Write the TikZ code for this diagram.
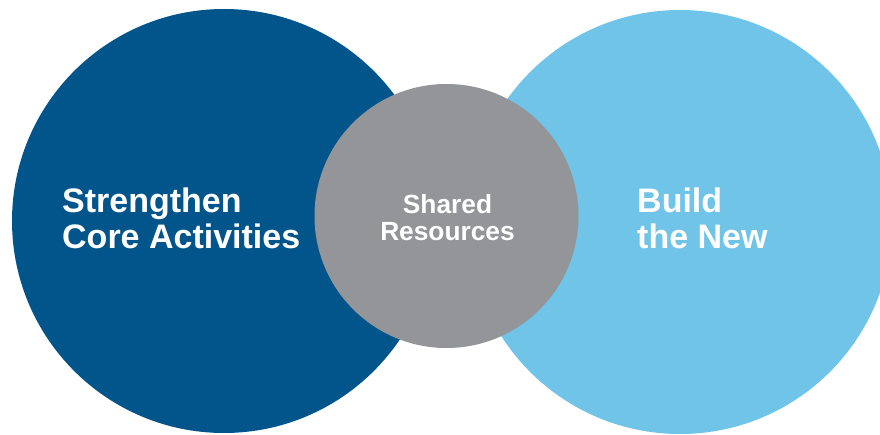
\documentclass[tikz,border=0pt]{standalone}
\usepackage{fontspec}
\setmainfont{Liberation Sans}
\definecolor{darkblue}{HTML}{02558B}
\definecolor{lightblue}{HTML}{70C4E8}
\definecolor{midgray}{HTML}{939598}
\begin{document}
\begin{tikzpicture}[x=1pt,y=1pt,
  bigcircle/.style={circle,minimum size=424pt,inner sep=0pt,draw=none},
  smallcircle/.style={circle,minimum size=264pt,inner sep=0pt,draw=none,fill=midgray},
  bigtext/.style={text=white,font=\fontsize{34}{36}\selectfont\bfseries,align=left,inner sep=0pt,anchor=west},
  smalltext/.style={text=white,font=\fontsize{26.3}{27}\selectfont\bfseries,align=center,inner sep=0pt}]
\useasboundingbox (0,0) rectangle (880,434);
\fill[white] (0,0) rectangle (880,434);
\clip (0,0) rectangle (880,434);
\node[bigcircle,fill=darkblue] (left) at (224,213) {};
\node[bigcircle,fill=lightblue] (right) at (680,212) {};
\node[smallcircle] (mid) at (446.5,218) {};
\node[bigtext] (lefttext) at (62,216) {Strengthen\\Core Activities};
\node[bigtext] (righttext) at (637,216) {Build\\the New};
\node[smalltext] (midtext) at (447.5,216.6) {Shared\\Resources};
\end{tikzpicture}
\end{document}
